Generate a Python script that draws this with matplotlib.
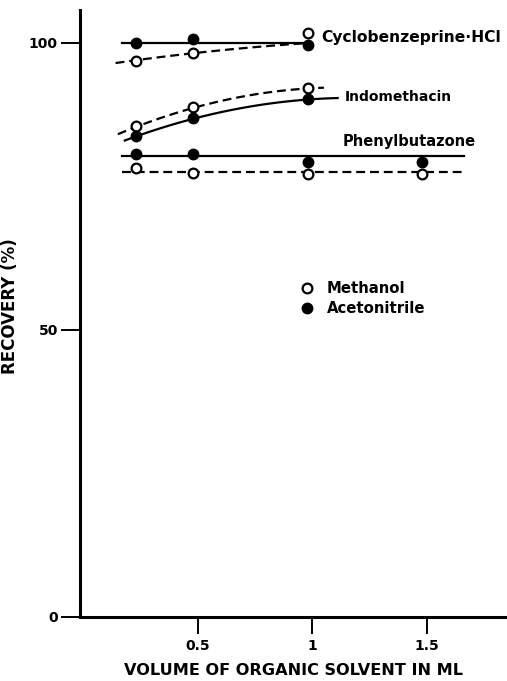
import numpy as np
import matplotlib
matplotlib.use("Agg")
from matplotlib import pyplot as plt

plt.rcParams['font.family'] = ['DejaVu Sans']
plt.rcParams['font.weight'] = 'bold'

# measured points (volume in ml, recovery %)
vol = [0.23, 0.48, 0.98, 1.48]

cyclo_acn = [100.0, 100.7, 99.7]
cyclo_meoh = [96.9, 98.3, 101.7]
indo_acn = [83.8, 86.9, 90.2]
indo_meoh = [85.5, 88.9, 92.1]
phenyl_acn = [80.6, 80.6, 79.3, 79.3]
phenyl_meoh = [78.2, 77.3, 77.2, 77.2]

# hand drawn fit lines, anchors
fits = {
    "cyclo_acn": ([0.17, 0.6, 0.99], [100.0, 100.0, 100.0], "-"),
    "cyclo_meoh": ([0.14, 0.5, 0.99], [96.5, 98.3, 100.0], "--"),
    "indo_acn": ([0.18, 0.5, 1.11], [83.0, 87.0, 90.4], "-"),
    "indo_meoh": ([0.15, 0.5, 1.05], [84.1, 88.9, 92.2], "--"),
    "phenyl_acn": ([0.17, 0.9, 1.66], [80.3, 80.3, 80.3], "-"),
    "phenyl_meoh": ([0.17, 0.9, 1.66], [77.5, 77.5, 77.5], "--"),
}

# text, x, y, fontsize
labels = [("Cyclobenzeprine\u00b7HCl", 1.04, 101.0, 11.2),
          ("Indomethacin", 1.142, 90.6, 10),
          ("Phenylbutazone", 1.133, 82.8, 10.5)]

fig = plt.figure(figsize=(5.07, 6.81), dpi=100)
ax = fig.add_axes([0.158, 0.094, 0.842, 0.891])

for fx, fy, ls in fits.values():
    coef = np.polyfit(fx, fy, 2)
    xs = np.linspace(fx[0], fx[-1], 100)
    if ls == "--":
        ax.plot(xs, np.polyval(coef, xs), color="black", lw=1.6, ls=(0, (4, 2.2)))
    else:
        ax.plot(xs, np.polyval(coef, xs), color="black", lw=1.6)

for ys in (cyclo_acn, indo_acn, phenyl_acn):
    ax.plot(vol[:len(ys)], ys, "o", color="black", ms=7.5, zorder=3)
for ys in (cyclo_meoh, indo_meoh, phenyl_meoh):
    ax.plot(vol[:len(ys)], ys, "o", mfc="white", mec="black", mew=1.6, ms=7, zorder=4)

for text, x, y, fs in labels:
    ax.text(x, y, text, fontsize=fs, fontweight="bold", va="center", ha="left")

# legend drawn by hand like the original
ax.plot([0.976], [57.3], "o", mfc="white", mec="black", mew=1.6, ms=7)
ax.text(1.063, 57.3, "Methanol", fontsize=10.7, fontweight="bold", va="center")
ax.plot([0.976], [53.8], "o", color="black", ms=7.5)
ax.text(1.063, 53.8, "Acetonitrile", fontsize=10.7, fontweight="bold", va="center")

ax.set_xlim(-0.015, 1.85)
ax.set_ylim(0, 105.7)
ax.set_xticks([0.5, 1, 1.5])
ax.set_xticklabels(["0.5", "1", "1.5"])
ax.set_yticks([0, 50, 100])
ax.tick_params(axis="y", direction="out", length=14, width=1.4, labelsize=10, pad=2)
ax.tick_params(axis="x", direction="out", length=12, width=1.4, labelsize=10, pad=4)

for side in ("top", "right"):
    ax.spines[side].set_visible(False)
for side in ("left", "bottom"):
    ax.spines[side].set_linewidth(2.2)

ax.set_xlabel("VOLUME OF ORGANIC SOLVENT IN ML", fontsize=11.6, fontweight="bold", labelpad=7)
ax.set_ylabel("RECOVERY (%)", fontsize=12, fontweight="bold")
ax.yaxis.set_label_coords(-0.143, 0.512)

fig.savefig("out.png", dpi=100)
